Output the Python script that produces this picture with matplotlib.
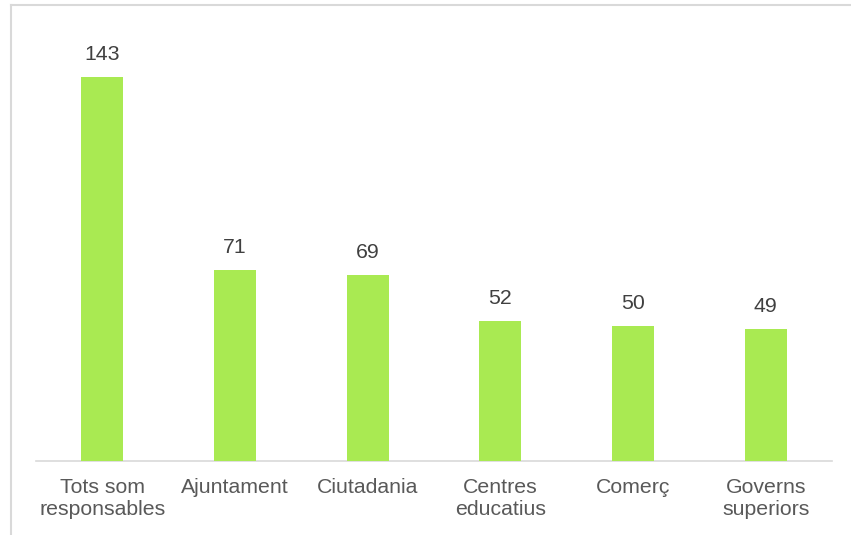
import matplotlib
matplotlib.use("Agg")
import matplotlib.pyplot as plt
from matplotlib.lines import Line2D

categories = ["Tots som\nresponsables", "Ajuntament", "Ciutadania",
              "Centres\neducatius", "Comerç", "Governs\nsuperiors"]
values = [143, 71, 69, 52, 50, 49]

GREEN, TEXT, VALTXT, FRAME, AXIS = "#a9ea52", "#595959", "#404040", "#d9d9d9", "#d9d9d9"
plt.rcParams.update({"font.family": ["Liberation Sans", "DejaVu Sans"], "font.size": 15.3})

W, H = 851, 535
fig = plt.figure(figsize=(W / 100, H / 100), dpi=100)
ax = fig.add_axes([36 / W, (H - 460.5) / H, (832 - 36) / W, (460.5 - 31.5) / H])

x = range(len(categories))
ax.bar(list(x), values, width=0.315, color=GREEN, zorder=3)
for i, v in enumerate(values):
    ax.annotate(str(v), (i, v), xytext=(0, 9.5), textcoords="offset points",
                ha="center", va="bottom", color=VALTXT)

ax.set_xlim(-0.5, len(categories) - 0.5)
ax.set_ylim(0, 160)
ax.set_yticks([])
ax.set_xticks(list(x))
ax.set_xticklabels(categories, color=TEXT, linespacing=1.2)
ax.tick_params(axis="x", length=0, pad=12.5)
for s in ("top", "right", "left"):
    ax.spines[s].set_visible(False)
ax.spines["bottom"].set_color(AXIS)
ax.spines["bottom"].set_linewidth(1.2)

# light chart-area frame (extends past the right and bottom edges)
fig.add_artist(Line2D([10.5 / W, 1.0], [(H - 4.5) / H] * 2, color=FRAME, lw=1.5))
fig.add_artist(Line2D([10.5 / W] * 2, [0, (H - 4.5) / H], color=FRAME, lw=1.5))

fig.savefig("out.png", dpi=100)
